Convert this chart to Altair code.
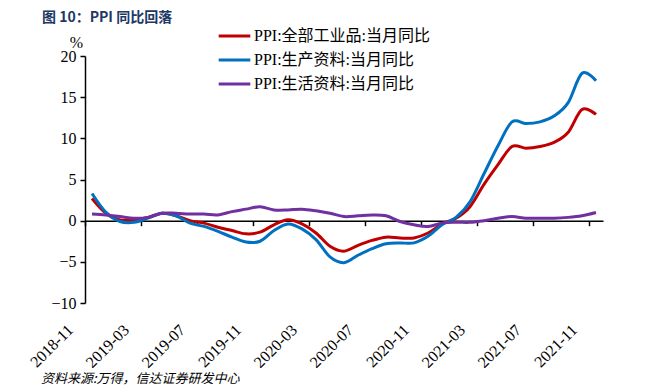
import altair as alt
import pandas as pd

months = [
    "2018-11", "2018-12", "2019-01", "2019-02", "2019-03", "2019-04", "2019-05", "2019-06",
    "2019-07", "2019-08", "2019-09", "2019-10", "2019-11", "2019-12", "2020-01", "2020-02",
    "2020-03", "2020-04", "2020-05", "2020-06", "2020-07", "2020-08", "2020-09", "2020-10",
    "2020-11", "2020-12", "2021-01", "2021-02", "2021-03", "2021-04", "2021-05", "2021-06",
    "2021-07", "2021-08", "2021-09", "2021-10", "2021-11",
]
ppi_all = [2.7, 0.9, 0.1, 0.1, 0.4, 0.9, 0.6, 0.0, -0.3, -0.8, -1.2, -1.6, -1.4, -0.5, 0.1, -0.4,
           -1.5, -3.1, -3.7, -3.0, -2.4, -2.0, -2.1, -2.1, -1.5, -0.4, 0.3, 1.7, 4.4, 6.8, 9.0, 8.8,
           9.0, 9.5, 10.7, 13.5, 12.9]
ppi_prod = [3.3, 1.0, -0.1, -0.2, 0.3, 0.9, 0.6, -0.3, -0.7, -1.3, -2.0, -2.6, -2.5, -1.2, -0.4, -1.0,
            -2.3, -4.4, -5.1, -4.2, -3.4, -2.8, -2.7, -2.7, -1.9, -0.5, 0.4, 2.3, 5.7, 9.1, 12.0, 11.8,
            12.0, 12.7, 14.3, 17.9, 17.0]
ppi_cons = [0.8, 0.7, 0.5, 0.3, 0.4, 0.9, 0.9, 0.8, 0.8, 0.7, 1.1, 1.4, 1.7, 1.3, 1.3, 1.4,
            1.2, 0.9, 0.5, 0.6, 0.7, 0.6, -0.1, -0.5, -0.7, -0.3, -0.2, -0.2, 0.0, 0.3, 0.5, 0.3,
            0.3, 0.3, 0.4, 0.6, 1.0]
series_names = ["PPI:全部工业品:当月同比", "PPI:生产资料:当月同比", "PPI:生活资料:当月同比"]
colors = ["#C00000", "#0070C0", "#7030A0"]
label_months = months[::4]
y_ticks = [-10, -5, 0, 5, 10, 15, 20]
title_text = "图 10：PPI 同比回落"
source_text = "资料来源:万得，信达证券研发中心"

rows = []
for name, vals in zip(series_names, [ppi_all, ppi_prod, ppi_cons]):
    for m, v in zip(months, vals):
        rows.append({"month": m, "value": v, "series": name})
df = pd.DataFrame(rows)

serif = "Liberation Serif, Times New Roman, Noto Sans CJK SC"
W, H = 518, 247
step = W / len(months)

xscale = alt.Scale(type="point", padding=0.5, domain=months)
yscale = alt.Scale(domain=[-10, 20], nice=False, zero=False)

lines = alt.Chart(df).mark_line(interpolate="cardinal", strokeWidth=3).encode(
    x=alt.X("month:O", scale=xscale, sort=months,
            axis=alt.Axis(values=label_months, labelAngle=-45, labelAlign="right",
                          labelBaseline="middle", labelFont=serif, labelFontSize=16,
                          labelColor="black", labelPadding=24, labelOffset=-15,
                          tickOffset=-step / 2, domain=False, ticks=False, title=None,
                          orient="bottom")),
    y=alt.Y("value:Q", scale=yscale,
            axis=alt.Axis(values=y_ticks, grid=False, domain=True, domainColor="black",
                          domainWidth=1.5, ticks=True, tickColor="black", tickWidth=1.5,
                          tickSize=5, labelFont=serif, labelFontSize=16, labelColor="black",
                          labelPadding=4, title="%", titleAngle=0, titleFont=serif,
                          titleFontSize=16, titleFontWeight="normal", titleColor="black",
                          titleX=-9, titleY=-14, titleAlign="center", titleBaseline="middle")),
    color=alt.Color("series:N", scale=alt.Scale(domain=series_names, range=colors),
                    legend=alt.Legend(title=None, orient="none", legendX=132, legendY=-28,
                                      symbolType="stroke", symbolSize=1000, symbolStrokeWidth=3,
                                      clipHeight=16, rowPadding=8, labelFont=serif,
                                      labelFontSize=16, labelColor="black", labelLimit=400,
                                      labelOffset=2, padding=0)),
)

zero_axis = alt.Chart(df).mark_point(opacity=0).encode(
    x=alt.X("month:O", scale=xscale, sort=months,
            axis=alt.Axis(values=label_months, labels=False, domain=True, domainColor="black",
                          domainWidth=1.5, ticks=True, tickColor="black", tickWidth=1.5,
                          tickSize=5, tickOffset=-step / 2, title=None, orient="bottom",
                          offset=-(H * 10 / 30))),
)

title = alt.Chart(pd.DataFrame({"t": [title_text]})).mark_text(
    align="left", baseline="middle", font="Noto Sans CJK SC", fontSize=14,
    fontWeight="bold", color="#203864").encode(
    text="t:N", x=alt.value(-43), y=alt.value(-38))

source = alt.Chart(pd.DataFrame({"t": [source_text]})).mark_text(
    align="left", baseline="middle", font="Noto Sans CJK SC", fontSize=13,
    fontStyle="italic", color="black").encode(
    text="t:N", x=alt.value(-44), y=alt.value(323))

chart = alt.layer(zero_axis, lines, title, source).resolve_axis(x="independent").properties(
    width=W, height=H,
    autosize=alt.AutoSizeParams(type="none"),
    padding={"left": 77, "top": 48, "right": 38, "bottom": 88},
).configure_view(stroke=None)

chart.save("out.html", embed_options={"renderer": "svg", "actions": False})
